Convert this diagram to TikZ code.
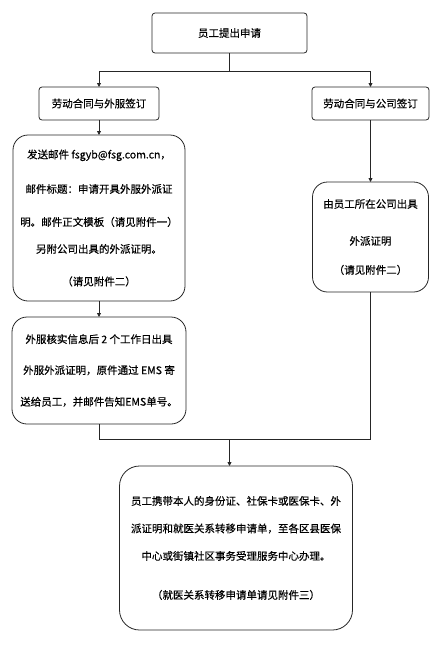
\documentclass[tikz,border=0pt]{standalone}
\usepackage{fontspec}
\setmainfont{Noto Sans CJK SC}[FakeBold=0.4]
\usetikzlibrary{positioning,arrows.meta}

\begin{document}
\begin{tikzpicture}[
	font=\fontsize{10.5pt}{30pt}\selectfont,
	stepbox/.style={
		draw=black!85,
		line width=0.8pt,
		rectangle,
		rounded corners=3pt,
		inner sep=2pt,
		align=center,
		outer sep=0pt,
	},
	textbox/.style={
		stepbox,
		rounded corners=15pt,
	},
	link/.style={draw=black!85, line width=0.8pt},
	arr/.style={link, -{Triangle[length=4pt, width=4pt]}},
]
\useasboundingbox (0,0) rectangle (431pt,-645pt);

\node[stepbox, minimum width=155pt, minimum height=40pt] (apply) at (229.5pt,-33pt) {员工提出申请};

\node[stepbox, minimum width=120pt, minimum height=33pt,
	below left=34pt and -7pt of apply] (outsrc) {劳动合同与外服签订};
\node[stepbox, minimum width=117pt, minimum height=33pt,
	below right=34pt and 5pt of apply] (company) {劳动合同与公司签订};

\node[textbox, minimum width=172pt, minimum height=166pt,
	below=15pt of outsrc] (mail) {
	发送邮件 fsgyb@fsg.com.cn，\\[4.5pt]
	邮件标题：申请开具外服外派证\\[3pt]
	明。邮件正文模板（请见附件一）\\[-3pt]
	另附公司出具的外派证明。\\[2.5pt]
	（请见附件二）
};

\node[textbox, minimum width=174pt, minimum height=107pt,
	below=16pt of mail] (post) {
	外服核实信息后 2 个工作日出具\\[1pt]
	外服外派证明，原件通过 EMS 寄\\[1.5pt]
	送给员工，并邮件告知EMS单号。
};

\node[textbox, minimum width=116pt, minimum height=110pt,
	below=62pt of company] (proof) {
	由员工所在公司出具\\[7pt]
	外派证明\\[-1pt]
	（请见附件二）
};

\node[textbox, rounded corners=20pt, minimum width=233pt, minimum height=164pt,
	below=42pt of post, xshift=137pt] (final) {
	员工携带本人的身份证、社保卡或医保卡、外\\[-2.5pt]
	派证明和就医关系转移申请单，至各区县医保\\[-2.5pt]
	中心或街镇社区事务受理服务中心办理。\\[9pt]
	（就医关系转移申请单请见附件三）
};

% 分支与汇合
\path (apply.south) ++(0,-18pt) coordinate (fork);
\path (apply.south |- post.south) ++(0,-15pt) coordinate (join);

\draw[link] (apply.south) -- (fork);
\draw[arr] (fork) -| (outsrc);
\draw[arr] (fork) -| (company);
\draw[arr] (outsrc) -- (mail);
\draw[arr] (mail) -- (post);
\draw[arr] (company) -- (proof);
\draw[link] (post.south) -- (post.south |- join) -| (proof.south);
\draw[arr] (join) -- (join |- final.north);

\end{tikzpicture}
\end{document}
